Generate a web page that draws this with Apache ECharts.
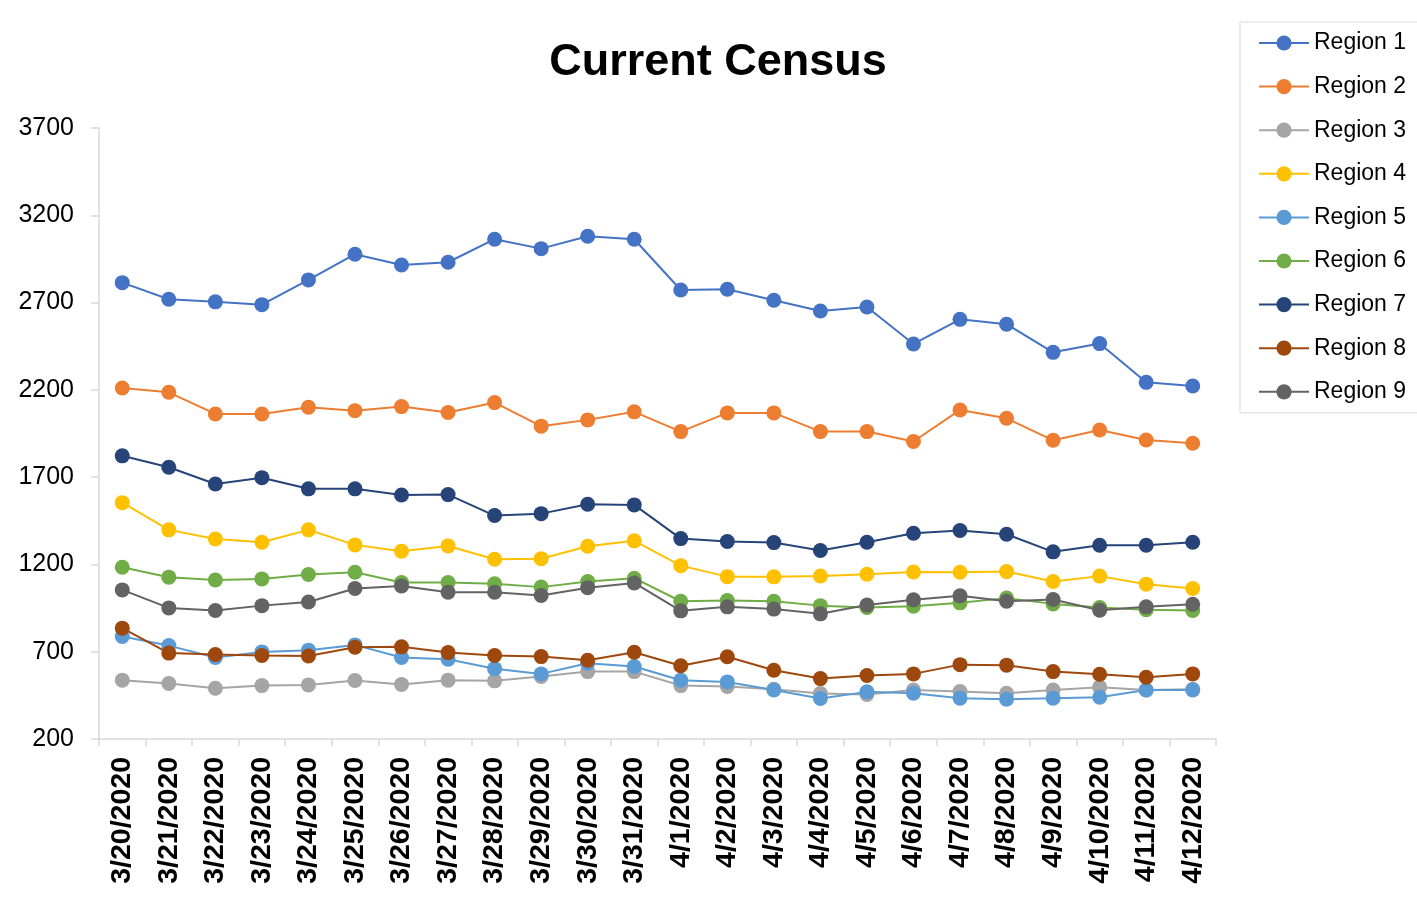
<!DOCTYPE html>
<html>
<head>
<meta charset="utf-8">
<script src="https://cdn.jsdelivr.net/npm/echarts@6/dist/echarts.min.js"></script>
<style>
  html, body { margin: 0; padding: 0; background: #fff; }
  #chart { width: 1417px; height: 899px; }
</style>
</head>
<body>
<div id="chart"></div>
<script>
  // dates on the x axis
  const dates = ['3/20/2020', '3/21/2020', '3/22/2020', '3/23/2020', '3/24/2020', '3/25/2020',
    '3/26/2020', '3/27/2020', '3/28/2020', '3/29/2020', '3/30/2020', '3/31/2020',
    '4/1/2020', '4/2/2020', '4/3/2020', '4/4/2020', '4/5/2020', '4/6/2020',
    '4/7/2020', '4/8/2020', '4/9/2020', '4/10/2020', '4/11/2020', '4/12/2020']

  const region1 = [2814, 2719, 2704, 2688, 2830, 2977, 2915, 2931, 3063, 3009, 3080, 3063, 2772, 2776, 2713, 2652, 2675, 2463, 2604, 2576, 2415, 2465, 2243, 2222]
  const region2 = [2211, 2186, 2062, 2062, 2100, 2081, 2104, 2070, 2127, 1992, 2028, 2074, 1961, 2068, 2068, 1961, 1961, 1904, 2085, 2037, 1911, 1970, 1913, 1894]
  const region3 = [537, 518, 491, 506, 510, 535, 512, 537, 533, 558, 586, 586, 506, 501, 485, 460, 455, 481, 472, 462, 481, 497, 481, 485]
  const region4 = [1554, 1398, 1346, 1327, 1398, 1312, 1276, 1306, 1230, 1233, 1304, 1335, 1193, 1130, 1129, 1134, 1144, 1157, 1155, 1159, 1102, 1133, 1087, 1062]
  const region5 = [787, 735, 667, 699, 709, 739, 667, 657, 603, 573, 634, 615, 537, 527, 481, 432, 470, 462, 434, 428, 434, 439, 481, 481]
  const region6 = [1184, 1127, 1111, 1117, 1142, 1155, 1096, 1096, 1089, 1070, 1102, 1121, 989, 993, 989, 964, 953, 961, 980, 1007, 974, 953, 940, 936]
  const region7 = [1822, 1757, 1661, 1697, 1633, 1633, 1598, 1600, 1480, 1491, 1545, 1541, 1348, 1331, 1325, 1280, 1327, 1379, 1394, 1373, 1272, 1310, 1310, 1327]
  const region8 = [835, 692, 684, 678, 676, 726, 728, 695, 678, 672, 651, 697, 620, 671, 594, 546, 564, 573, 626, 623, 586, 571, 554, 573]
  const region9 = [1054, 951, 936, 964, 985, 1062, 1077, 1041, 1041, 1022, 1067, 1094, 934, 957, 944, 917, 967, 997, 1020, 989, 999, 938, 957, 972]

  const names = ['Region 1', 'Region 2', 'Region 3', 'Region 4', 'Region 5', 'Region 6', 'Region 7', 'Region 8', 'Region 9']
  const values = [region1, region2, region3, region4, region5, region6, region7, region8, region9]
  const colors = ['#4472C4', '#ED7D31', '#A5A5A5', '#FFC000', '#5B9BD5', '#70AD47', '#264478', '#9E480E', '#636363']

  var chart = echarts.init(document.getElementById('chart'))

  var series = []
  for (let i = 0; i < names.length; i++) {
    series.push({
      name: names[i],
      type: 'line',
      data: values[i],
      symbol: 'circle',
      symbolSize: 15,
      itemStyle: { color: colors[i] },
      lineStyle: { color: colors[i], width: 2 },
      emphasis: { disabled: true },
      animation: false
    })
  }

  var option = {
    backgroundColor: '#fff',
    title: {
      text: 'Current Census',
      left: 718,
      top: 40,
      padding: 0,
      textAlign: 'center',
      textStyle: {
        fontFamily: 'Liberation Sans',
        fontSize: 45,
        fontWeight: 'bold',
        color: '#000'
      }
    },
    legend: {
      orient: 'vertical',
      left: 1240,
      top: 22,
      padding: [9, 30, 9, 18],
      itemGap: 19.6,
      itemWidth: 50,
      itemHeight: 19,
      backgroundColor: '#fff',
      borderColor: '#d9d9d9',
      borderWidth: 1,
      textStyle: {
        fontFamily: 'Liberation Sans',
        fontSize: 23,
        lineHeight: 24,
        color: '#000'
      },
      data: names
    },
    grid: {
      left: 99,
      right: 201,
      top: 128,
      bottom: 160,
      containLabel: false
    },
    xAxis: {
      type: 'category',
      data: dates,
      boundaryGap: true,
      axisLine: { lineStyle: { color: '#d9d9d9', width: 1.5 } },
      axisTick: { show: true, length: 7, lineStyle: { color: '#d9d9d9', width: 1.5 } },
      axisLabel: {
        interval: 0,
        rotate: 90,
        margin: 18,
        fontFamily: 'Liberation Sans',
        fontSize: 28.5,
        fontWeight: 'bold',
        color: '#000'
      },
      splitLine: { show: false }
    },
    yAxis: {
      type: 'value',
      min: 200,
      max: 3700,
      interval: 500,
      axisLine: { show: true, lineStyle: { color: '#d9d9d9', width: 1.5 } },
      axisTick: { show: true, length: 8, lineStyle: { color: '#d9d9d9', width: 1.5 } },
      axisLabel: {
        margin: 25,
        fontFamily: 'Liberation Sans',
        fontSize: 25,
        color: '#000',
        formatter: function (v) { return String(v) }
      },
      splitLine: { show: false }
    },
    series: series
  }

  chart.setOption(option)
</script>
</body>
</html>
